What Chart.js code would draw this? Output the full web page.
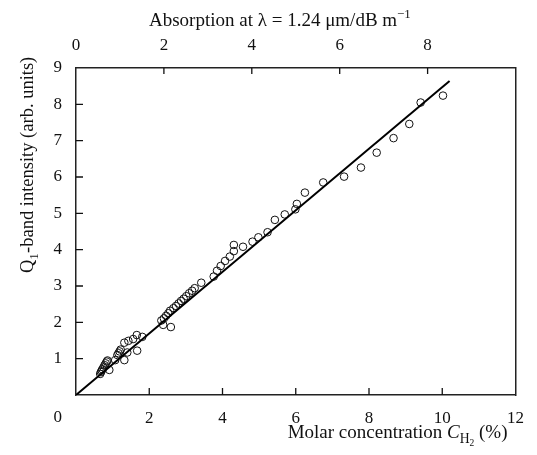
<!DOCTYPE html>
<html>
<head>
<meta charset="utf-8">
<script src="https://cdn.jsdelivr.net/npm/chart.js@4/dist/chart.umd.min.js"></script>
<style>
  body { margin: 0; background: #fff; }
  #wrap { width: 537px; height: 455px; }
</style>
</head>
<body>
<div id="wrap"><canvas id="qChart"></canvas></div>
<script>
// measured points: molar concentration (%) vs Q1-band intensity
const concentration = [0.66, 0.68, 0.70, 0.72, 0.75, 0.78, 0.81, 0.84, 0.86, 0.91, 1.07,
  1.13, 1.16, 1.19, 1.22, 1.32, 1.40, 1.32, 1.43, 1.56, 1.66, 1.67, 1.81,
  2.33, 2.40, 2.46, 2.52, 2.57, 2.66, 2.73, 2.80, 2.87, 2.94, 3.01, 3.09, 3.17, 3.24,
  2.38, 2.59, 3.42, 3.76, 3.85, 3.95, 4.07, 4.20, 4.31, 4.31, 4.56, 4.82, 4.98, 5.23,
  5.43, 5.70, 5.99, 6.03, 6.25, 6.75, 7.32, 7.78, 8.21, 8.67, 9.10, 9.41, 10.02];
const intensity = [0.58, 0.63, 0.67, 0.71, 0.76, 0.82, 0.87, 0.92, 0.95, 0.69, 0.96,
  1.10, 1.15, 1.20, 1.25, 0.96, 1.17, 1.44, 1.49, 1.54, 1.65, 1.22, 1.60,
  2.05, 2.11, 2.18, 2.25, 2.32, 2.39, 2.45, 2.52, 2.59, 2.65, 2.72, 2.80, 2.87, 2.94,
  1.93, 1.87, 3.09, 3.26, 3.42, 3.55, 3.69, 3.81, 3.96, 4.13, 4.08, 4.22, 4.34, 4.48,
  4.82, 4.97, 5.11, 5.26, 5.57, 5.85, 6.01, 6.26, 6.67, 7.07, 7.46, 8.05, 8.24];

// straight-line fit
const fitX = [0, 10.2];
const fitY = [0, 8.64];

// axis ranges / ticks
const concTicks = [0, 2, 4, 6, 8, 10, 12];
const intensityTicks = [0, 1, 2, 3, 4, 5, 6, 7, 8, 9];
const absorptionTicks = [0, 2, 4, 6, 8, 10];

const serif = '"Liberation Serif", "Times New Roman", serif';

function partFont(s, size) {
  let fs = size, dy = 0, it = '';
  if (s === 'i') it = 'italic ';
  if (s === 'sub') { fs = size * 0.72; dy = size * 0.25; }
  if (s === 'sup') { fs = size * 0.68; dy = -size * 0.42; }
  if (s === 'subsub') { fs = size * 0.5; dy = size * 0.42; }
  return { font: it + fs + 'px ' + serif, dy: dy };
}
function richWidth(ctx, parts, size) {
  let w = 0;
  parts.forEach(([t, s]) => {
    ctx.font = partFont(s, size).font;
    w += ctx.measureText(t).width;
  });
  return w;
}
function drawRich(ctx, parts, x, y, size) {
  let cx = x;
  parts.forEach(([t, s]) => {
    const f = partFont(s, size);
    ctx.font = f.font;
    ctx.fillText(t, cx, y + f.dy);
    cx += ctx.measureText(t).width;
  });
}

const inkPlugin = {
  id: 'ink',
  afterDraw(chart) {
    const { ctx, chartArea: a, scales } = chart;
    ctx.save();
    ctx.strokeStyle = '#111';
    ctx.lineWidth = 1.3;
    ctx.beginPath();
    scales.x.ticks.forEach(t => {
      if (t.value <= scales.x.min || t.value >= scales.x.max) return;
      const px = scales.x.getPixelForValue(t.value);
      ctx.moveTo(px, a.bottom); ctx.lineTo(px, a.bottom - 7);
    });
    scales.x2.ticks.forEach(t => {
      if (t.value <= scales.x2.min || t.value >= scales.x2.max) return;
      const px = scales.x2.getPixelForValue(t.value);
      ctx.moveTo(px, a.top); ctx.lineTo(px, a.top + 6);
    });
    scales.y.ticks.forEach(t => {
      if (t.value <= scales.y.min || t.value >= scales.y.max) return;
      const py = scales.y.getPixelForValue(t.value);
      ctx.moveTo(a.left, py); ctx.lineTo(a.left + 7, py);
    });
    ctx.stroke();

    ctx.fillStyle = '#111';
    // shared origin label
    ctx.font = '17px ' + serif;
    ctx.textAlign = 'right';
    ctx.textBaseline = 'top';
    ctx.fillText('0', a.left - 14, a.bottom + 14);

    ctx.textAlign = 'left';
    ctx.textBaseline = 'alphabetic';
    // top title
    drawRich(ctx, [['Absorption at λ = 1.24 μm/dB m', ''], ['−1', 'sup']], a.left + 73, 26, 19);
    // bottom title
    const bottomParts = [['Molar concentration ', ''], ['C', 'i'], ['H', 'sub'], ['2', 'subsub'], [' (%)', '']];
    const bw = richWidth(ctx, bottomParts, 19);
    drawRich(ctx, bottomParts, a.right - 8 - bw, 438, 19);
    // left title
    ctx.translate(33, 273);
    ctx.rotate(-Math.PI / 2);
    drawRich(ctx, [['Q', ''], ['1', 'sub'], ['-band intensity (arb. units)', '']], 0, 0, 18.5);
    ctx.restore();
  }
};

const tickFont = { family: serif, size: 17 };
const ctx = document.getElementById('qChart').getContext('2d');
const qChart = new Chart(ctx, {
  type: 'scatter',
  data: {
    datasets: [
      {
        label: 'data',
        data: concentration.map((c, i) => ({ x: c, y: intensity[i] })),
        pointStyle: 'circle',
        pointRadius: 3.8,
        pointBorderWidth: 1,
        pointBorderColor: '#111',
        pointBackgroundColor: 'rgba(255,255,255,0)',
        showLine: false,
        order: 2
      },
      {
        label: 'fit',
        data: fitX.map((c, i) => ({ x: c, y: fitY[i] })),
        showLine: true,
        borderColor: '#000',
        borderWidth: 2,
        pointRadius: 0,
        order: 1
      }
    ]
  },
  options: {
    responsive: true,
    maintainAspectRatio: false,
    animation: false,
    layout: { padding: { left: 0, right: 14, top: 0, bottom: 0 } },
    plugins: { legend: { display: false }, tooltip: { enabled: false } },
    scales: {
      x: {
        type: 'linear',
        position: 'bottom',
        min: concTicks[0],
        max: concTicks[concTicks.length - 1],
        afterBuildTicks: s => { s.ticks = concTicks.map(v => ({ value: v })); },
        afterFit: s => { s.height = 60; },
        ticks: { font: tickFont, color: '#111', padding: 13, maxRotation: 0,
          callback: v => (v === 0 ? '' : v) },
        grid: { drawOnChartArea: false, drawTicks: false, tickLength: 0 },
        border: { color: '#222', width: 1.5 }
      },
      x2: {
        type: 'linear',
        position: 'top',
        min: absorptionTicks[0],
        max: absorptionTicks[absorptionTicks.length - 1],
        afterBuildTicks: s => { s.ticks = absorptionTicks.map(v => ({ value: v })); },
        afterFit: s => { s.height = 68; },
        ticks: { font: tickFont, color: '#111', padding: 12, maxRotation: 0,
          callback: v => (v === 10 ? '' : v) },
        grid: { drawOnChartArea: false, drawTicks: false, tickLength: 0 },
        border: { color: '#222', width: 1.5 }
      },
      y: {
        type: 'linear',
        position: 'left',
        min: intensityTicks[0],
        max: intensityTicks[intensityTicks.length - 1],
        afterBuildTicks: s => { s.ticks = intensityTicks.map(v => ({ value: v })); },
        afterFit: s => { s.width = 76; },
        ticks: { font: tickFont, color: '#111', padding: 14,
          callback: v => (v === 0 ? '' : v) },
        grid: { drawOnChartArea: false, drawTicks: false, tickLength: 0 },
        border: { color: '#222', width: 1.5 }
      },
      y2: {
        type: 'linear',
        position: 'right',
        min: 0,
        max: 9,
        afterFit: s => { s.width = 0; },
        ticks: { display: false },
        grid: { drawOnChartArea: false, drawTicks: false, tickLength: 0 },
        border: { color: '#222', width: 1.5 }
      }
    }
  },
  plugins: [inkPlugin]
});
</script>
</body>
</html>
